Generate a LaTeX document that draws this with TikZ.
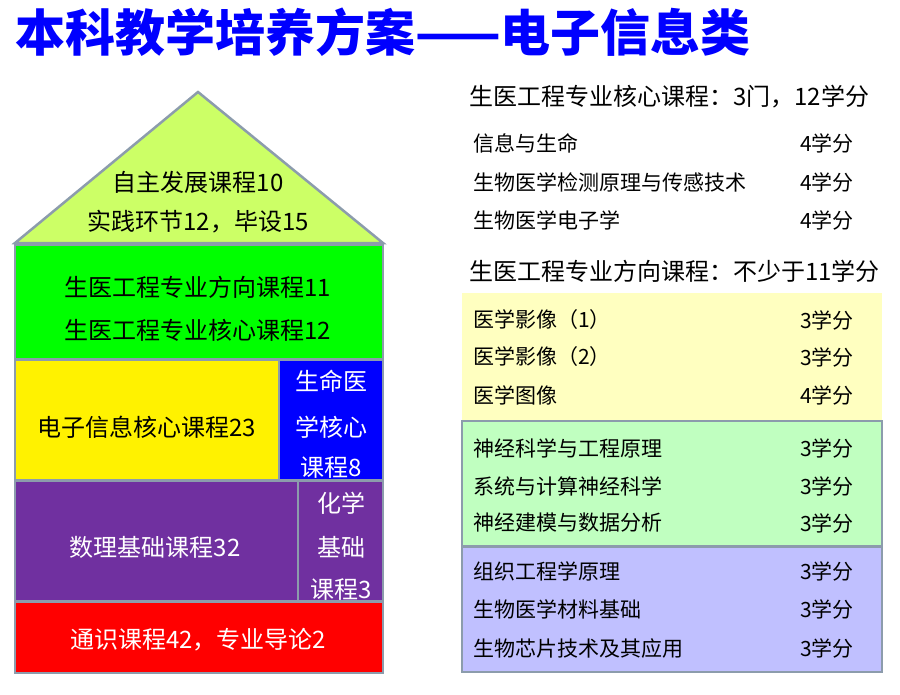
\documentclass[tikz,border=0pt]{standalone}
\usepackage{fontspec}
\setmainfont{Noto Sans CJK SC}
\begin{document}
\begin{tikzpicture}[x=1pt,y=-1pt,
  blk/.style={draw=bordc,line width=2.5pt},
  txt/.style={font=\fontsize{24}{24}\selectfont,inner sep=0pt},
  rt/.style={font=\fontsize{21}{21}\selectfont,inner sep=0pt,anchor=west},
  hd/.style={font=\fontsize{24}{24}\selectfont,inner sep=0pt,anchor=west},
  pane/.style={draw=bordc,line width=1.5pt}]
\definecolor{bordc}{HTML}{8C9CAC}
\definecolor{roofc}{HTML}{CCFF66}
\definecolor{purp}{HTML}{7030A0}
\useasboundingbox (0,0) rectangle (900,694);
\node[font=\bfseries\fontsize{50}{50}\selectfont,text=blue,anchor=west,inner sep=0pt] (title) at (15,32) {本科教学培养方案——电子信息类};
% house
\filldraw[blk,fill=roofc] (15,243) -- (198,92) -- (383,243) -- cycle;
\node[txt] (r1) at (198,182) {自主发展课程10};
\node[txt] (r2) at (198,222) {实践环节12，毕设15};
\filldraw[blk,fill=green] (15,245) rectangle (383,359);
\node[txt] (g1) at (198,287) {生医工程专业方向课程11};
\node[txt] (g2) at (198,330) {生医工程专业核心课程12};
\filldraw[blk,fill=yellow] (15,360) rectangle (279,480);
\node[txt] (y1) at (147,427) {电子信息核心课程23};
\filldraw[blk,fill=blue] (279,360) rectangle (383,480);
\node[txt,text=white] at (331,381) {生命医};
\node[txt,text=white] at (331,427) {学核心};
\node[txt,text=white] at (331,468) {课程8};
\filldraw[blk,fill=purp] (15,481) rectangle (298,601);
\node[txt,text=white] at (155,547) {数理基础课程32};
\filldraw[blk,fill=purp] (298,481) rectangle (383,601);
\node[txt,text=white] at (341,503) {化学};
\node[txt,text=white] at (341,547) {基础};
\node[txt,text=white] at (341,590) {课程3};
\filldraw[blk,fill=red] (15,602) rectangle (383,673);
\node[txt,text=white] at (198,640) {通识课程42，专业导论2};
% right
\node[hd] at (469,97) {生医工程专业核心课程：3门，12学分};
\node[rt] at (473,143) {信息与生命}; \node[rt] at (800,143) {4学分};
\node[rt] at (473,182) {生物医学检测原理与传感技术}; \node[rt] at (800,182) {4学分};
\node[rt] at (473,220) {生物医学电子学}; \node[rt] at (800,220) {4学分};
\node[hd] at (469,271) {生医工程专业方向课程：不少于11学分};
\fill[fill={rgb,255:red,255;green,255;blue,192}] (462,293) rectangle (882,420);
\filldraw[pane,fill={rgb,255:red,192;green,255;blue,192}] (462,421) rectangle (882,546);
\filldraw[pane,fill={rgb,255:red,192;green,192;blue,255}] (462,547) rectangle (882,672);
\node[rt] at (473,320) {医学影像（1）}; \node[rt] at (800,320) {3学分};
\node[rt] at (473,357) {医学影像（2）}; \node[rt] at (800,357) {3学分};
\node[rt] at (473,395) {医学图像}; \node[rt] at (800,395) {4学分};
\node[rt] at (473,448) {神经科学与工程原理}; \node[rt] at (800,448) {3学分};
\node[rt] at (473,486) {系统与计算神经科学}; \node[rt] at (800,486) {3学分};
\node[rt] at (473,523) {神经建模与数据分析}; \node[rt] at (800,523) {3学分};
\node[rt] at (473,571) {组织工程学原理}; \node[rt] at (800,571) {3学分};
\node[rt] at (473,609) {生物医学材料基础}; \node[rt] at (800,609) {3学分};
\node[rt] at (473,648) {生物芯片技术及其应用}; \node[rt] at (800,648) {3学分};
\end{tikzpicture}
\end{document}
